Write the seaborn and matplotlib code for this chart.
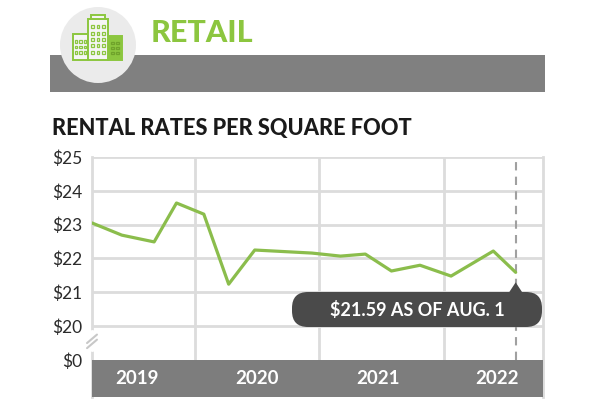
import numpy as np
import pandas as pd
import seaborn as sns
import matplotlib.pyplot as plt
from matplotlib.patches import Rectangle, Circle, FancyBboxPatch, Polygon

# Data (time as fractional years)
dates = [2019.17, 2019.41, 2019.67, 2019.85, 2020.07, 2020.27, 2020.48, 2020.94,
         2021.17, 2021.37, 2021.58, 2021.81, 2022.06, 2022.40, 2022.58]
rates = [23.05, 22.69, 22.49, 23.64, 23.31, 21.24, 22.25, 22.16,
         22.07, 22.13, 21.63, 21.80, 21.48, 22.22, 21.59]
years = [2019, 2020, 2021, 2022]
tick_vals = [19, 20, 21, 22, 23, 24, 25]
tick_labels = ['$0', '$20', '$21', '$22', '$23', '$24', '$25']

df = pd.DataFrame({'date': dates, 'rate': rates})

GREEN = '#8cc63f'
LINE_GREEN = '#8bbd4c'
GRID = '#dcdcdc'
BAND = '#7d7d7d'
DARK = '#4a4a4a'

sns.set_style('white')
plt.rcParams['font.family'] = ['Lato', 'DejaVu Sans']

W, H = 600, 400
fig = plt.figure(figsize=(6, 4), dpi=100)

# main chart axes (pixel layout: x 92..543, y 157..397)
ax = fig.add_axes([92/W, 3/H, 451/W, 240/H])
ax.set_zorder(2)
sns.lineplot(data=df, x='date', y='rate', ax=ax, color=LINE_GREEN, linewidth=2.3, zorder=4)

ax.set_xlim(2019.17, 2022.8)
ax.set_ylim(17.905, 25)
ax.set_yticks(tick_vals)
ax.set_yticklabels(tick_labels, fontsize=12.5, color='#2b2b2b')
ax.set_xticks([])
ax.set_xlabel('')
ax.set_ylabel('')
ax.tick_params(axis='y', length=0, pad=7)

for v in tick_vals[1:]:
    ax.axhline(v, color=GRID, linewidth=2, zorder=1)
ax.vlines(years[1:], 19, 25, colors=GRID, linewidth=2, zorder=1)
for side in ['top', 'bottom']:
    ax.spines[side].set_visible(False)
for side in ['left', 'right']:
    ax.spines[side].set_color(GRID)
    ax.spines[side].set_linewidth(2)

# "as of" dashed marker, stops at the band
ax.plot([dates[-1], dates[-1]], [19, 25], color='#a0a0a0', linestyle=(0, (4, 3)),
        linewidth=1.5, zorder=3)

# axis break marks between $0 and $20
brk = dict(transform=ax.transData, clip_on=False, zorder=8)
ax.plot([2019.17, 2019.17], [19.35, 19.8], color='white', linewidth=5, **brk)
for off in (0.0, 0.15):
    ax.plot([2019.13, 2019.21], [19.35 + off, 19.6 + off], color='#c8c8c8', linewidth=1.5, **brk)

# overlay in pixel coordinates for header, bottom band and callout
ov = fig.add_axes([0, 0, 1, 1])
ov.set_xlim(0, W)
ov.set_ylim(H, 0)
ov.axis('off')
ov.set_zorder(3)
ov.patch.set_alpha(0)

def to_px(x, y):
    px, py = ax.transData.transform((x, y))
    return px, H - py

# bottom band under the plot
bx0, by0 = to_px(2019.17, 19)
bx1, _ = to_px(2022.8, 19)
ov.add_patch(Rectangle((bx0, by0), bx1 - bx0, H - 3 - by0, facecolor=BAND, linewidth=0))
label_x = [2019.53, 2020.5, 2021.47, 2022.43]
for lx, yr in zip(label_x, years):
    px, py = to_px(lx, 18.45)
    ov.text(px, py, str(yr), color='white', fontsize=13.5, fontweight='bold',
            ha='center', va='center')

# header
ov.add_patch(Rectangle((50, 55), 495, 37, color='#808080', linewidth=0))
ov.add_patch(Circle((98, 45), 38, color='#ebebeb', linewidth=0))

# building icon
def building(x0, y0, w, h, fill, ncol, nrow):
    ov.add_patch(Rectangle((x0, y0), w, h, facecolor=fill, edgecolor=GREEN, linewidth=1.4))
    ww = w / (ncol * 2 + 1)
    wh = (h - 6) / (nrow * 2 + 1)
    for i in range(ncol):
        for j in range(nrow):
            ov.add_patch(Rectangle((x0 + ww * (2 * i + 1), y0 + 3 + wh * (2 * j + 1)), ww, wh,
                                   facecolor='none', edgecolor=GREEN if fill != GREEN else '#6fa32b',
                                   linewidth=0.9))

building(73, 34, 15, 26, '#f5f5f5', 3, 3)
building(108, 36, 14, 24, GREEN, 2, 3)
building(88, 19, 20, 41, '#f5f5f5', 3, 5)
ov.add_patch(Rectangle((91, 15), 14, 4, facecolor='#f5f5f5', edgecolor=GREEN, linewidth=1.4))

ov.text(151, 33, 'RETAIL', color=GREEN, fontsize=22, fontweight='black', ha='left', va='center')
ov.text(52, 129, 'RENTAL RATES PER SQUARE FOOT', color='#1a1a1a', fontsize=15.7,
        fontweight='black', ha='left', va='center')

# callout pointing at the latest value
tx, ty = to_px(dates[-1], rates[-1])
ov.add_patch(FancyBboxPatch((292, 292), 250, 35, boxstyle='round,pad=0,rounding_size=16',
                            color=DARK, linewidth=0))
ov.add_patch(Polygon([[tx - 7, 293], [tx, ty + 10], [tx + 7, 293]], closed=True,
                     color=DARK, linewidth=0))
ov.text(417, 310, f'${rates[-1]:.2f} AS OF AUG. 1', color='white', fontsize=13,
        fontweight='bold', ha='center', va='center')

fig.savefig('out.png', dpi=100)
